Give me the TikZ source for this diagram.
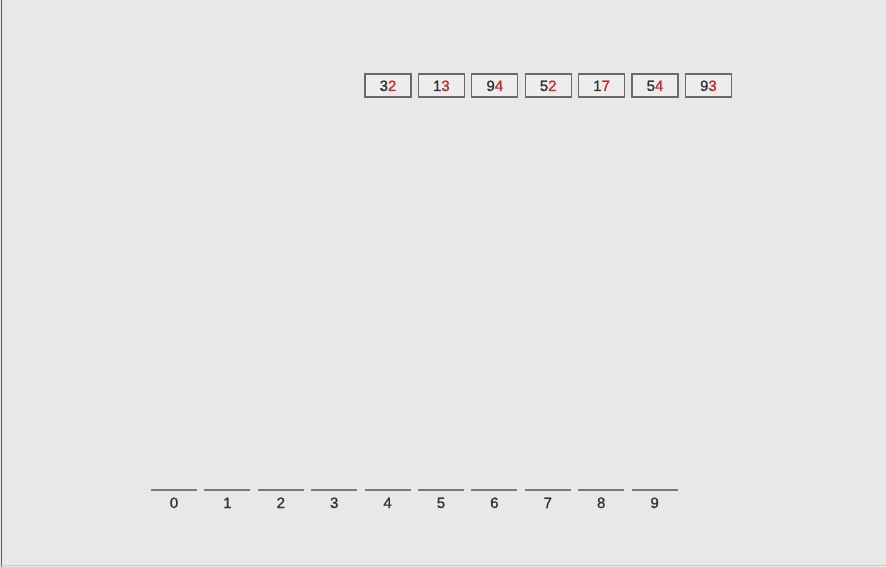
\documentclass[tikz,border=0pt]{standalone}
\usepackage{fontspec}
\setmainfont{Liberation Sans}
\newfontfamily\digfont[FakeBold=1.2]{Liberation Sans}
\definecolor{bg}{HTML}{E8E8E8}
\definecolor{dig}{HTML}{333333}
\definecolor{rd}{HTML}{CC2A2A}
\definecolor{bx}{HTML}{6A6A6A}
\definecolor{bxfill}{HTML}{EDEDED}
\definecolor{slot}{HTML}{7A7A7A}
\begin{document}
\begin{tikzpicture}[x=1pt,y=-1pt,
  numbox/.style={draw=bx,line width=1.2pt,fill=bxfill,minimum width=46pt,minimum height=23pt,inner sep=0pt,text=dig},
  numtext/.style={font=\digfont\fontsize{15}{15}\selectfont,text=dig,inner sep=0pt,anchor=base},
  slotline/.style={draw=slot,line width=1.3pt},
  slotlabel/.style={font=\digfont\fontsize{15}{15}\selectfont,text=dig,inner sep=0pt,anchor=base}]
\fill[bg] (0,0) rectangle (886,567);
\useasboundingbox (0,0) rectangle (886,567);
\draw[line width=1.5pt,draw=black!65] (1.5,0) -- (1.5,567);
\draw[line width=1pt,draw=black!20] (0,565.5) -- (886,565.5);
% number boxes
\foreach \t/\o [count=\i from 0] in {3/2,1/3,9/4,5/2,1/7,5/4,9/3}{
  \node[numbox] (b\i) at ({388+53.4*\i},85.5) {};
  \node[numtext] (t\i) at ({388+53.4*\i},91) {\t\textcolor{rd}{\o}};
}
% bucket slots
\foreach \k in {0,...,9}{
  \coordinate (sl\k) at ({151+53.4*\k},490);
  \coordinate (sr\k) at ({197+53.4*\k},490);
  \draw[slotline] (sl\k) -- (sr\k);
  \node[slotlabel] (lab\k) at ({174+53.4*\k},508) {\k};
}
\end{tikzpicture}
\end{document}
